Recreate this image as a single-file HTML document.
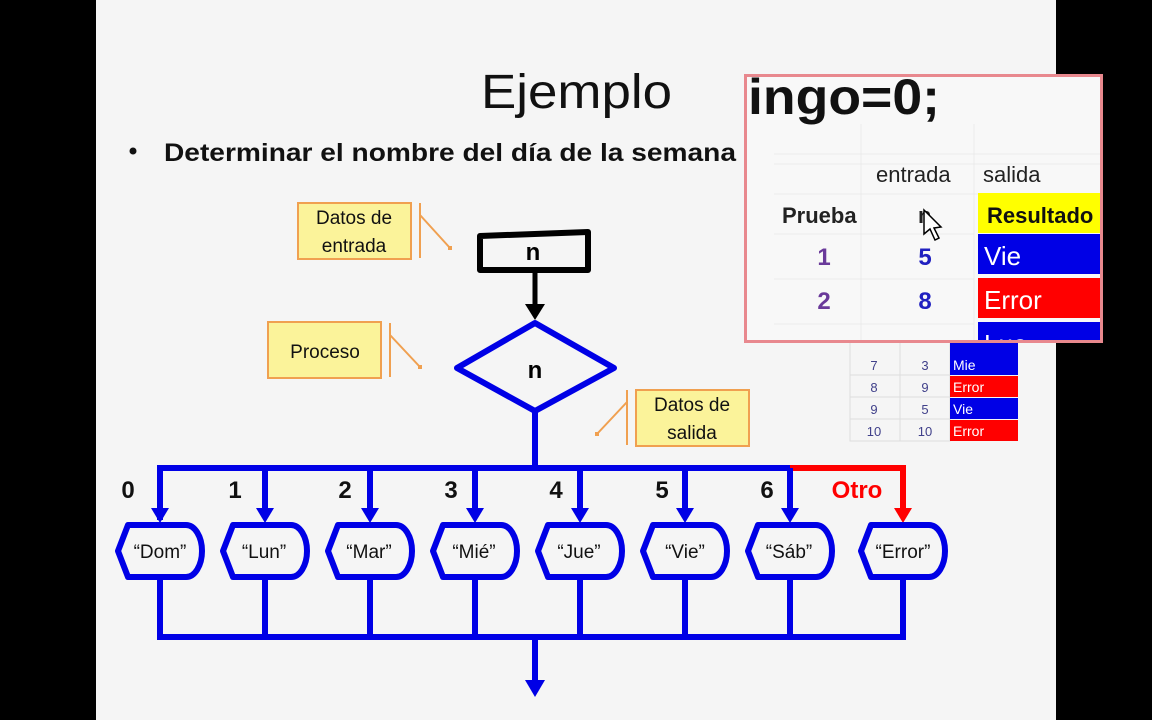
<!DOCTYPE html>
<html><head><meta charset="utf-8"><style>
html,body{margin:0;padding:0;width:1152px;height:720px;overflow:hidden;background:#000}
svg{display:block}
text{font-family:"Liberation Sans",sans-serif}
</style></head><body>
<svg width="1152" height="720" viewBox="0 0 1152 720" xmlns="http://www.w3.org/2000/svg">
<rect x="0" y="0" width="1152" height="720" fill="#000"/>
<rect x="96" y="0" width="960" height="720" fill="#f5f5f5"/>
<text x="481" y="108" font-size="48" fill="#111" textLength="191" lengthAdjust="spacingAndGlyphs">Ejemplo</text>
<circle cx="133" cy="151" r="3.5" fill="#111"/>
<text x="164" y="161" font-size="25" font-weight="bold" fill="#111" textLength="572" lengthAdjust="spacingAndGlyphs">Determinar el nombre del día de la semana</text>

<!-- callouts -->
<g fill="#fbf39a" stroke="#f0a050" stroke-width="2">
<rect x="298" y="203" width="113" height="56"/>
<rect x="268" y="322" width="113" height="56"/>
<rect x="636" y="390" width="113" height="56"/>
</g>
<g stroke="#f0a050" stroke-width="2" fill="none">
<path d="M420 203 V258 M420 215 L450 248"/>
<path d="M390 323 V377 M390 335 L420 367"/>
<path d="M627 390 V445 M627 402 L597 434"/>
</g>
<g fill="#f0a050"><rect x="448" y="246" width="4" height="4"/><rect x="418" y="365" width="4" height="4"/><rect x="595" y="432" width="4" height="4"/></g>
<g font-size="19" text-anchor="middle" fill="#111">
<text x="354" y="224">Datos de</text><text x="354" y="252">entrada</text>
<text x="325" y="358">Proceso</text>
<text x="692" y="411">Datos de</text><text x="692" y="439">salida</text>
</g>

<!-- input -->
<path d="M480 236 L588 232 V270 H480 Z" fill="none" stroke="#000" stroke-width="6" stroke-linejoin="round"/>
<text x="533" y="260" font-size="24" font-weight="bold" text-anchor="middle">n</text>
<line x1="535" y1="272" x2="535" y2="305" stroke="#000" stroke-width="5"/>
<path d="M525 304 H545 L535 320 Z" fill="#000"/>
<!-- diamond -->
<path d="M535 323 L614 368 L535 411 L457 368 Z" fill="none" stroke="#0000e6" stroke-width="6" stroke-linejoin="round"/>
<text x="535" y="378" font-size="24" font-weight="bold" text-anchor="middle">n</text>
<line x1="535" y1="411" x2="535" y2="468" stroke="#0000e6" stroke-width="6"/>

<!-- buses -->
<path d="M160 520 V468 H793" fill="none" stroke="#0000e6" stroke-width="6"/>
<path d="M790 468 H903 V510" fill="none" stroke="#ff0000" stroke-width="6"/>
<path d="M894 508 H912 L903 523 Z" fill="#ff0000"/>
<path d="M160 580 V637 H903 V580" fill="none" stroke="#0000e6" stroke-width="6"/>
<line x1="535" y1="637" x2="535" y2="682" stroke="#0000e6" stroke-width="6"/>
<path d="M525 680 H545 L535 697 Z" fill="#0000e6"/>

<g fill="none" stroke="#0000e6" stroke-width="6" stroke-linejoin="round">
<path d="M118 551 L128 525 H186 A16 26 0 0 1 202 551 A16 26 0 0 1 186 577 H128 Z"/>
<path d="M223 551 L233 525 H291 A16 26 0 0 1 307 551 A16 26 0 0 1 291 577 H233 Z"/>
<path d="M328 551 L338 525 H396 A16 26 0 0 1 412 551 A16 26 0 0 1 396 577 H338 Z"/>
<path d="M433 551 L443 525 H501 A16 26 0 0 1 517 551 A16 26 0 0 1 501 577 H443 Z"/>
<path d="M538 551 L548 525 H606 A16 26 0 0 1 622 551 A16 26 0 0 1 606 577 H548 Z"/>
<path d="M643 551 L653 525 H711 A16 26 0 0 1 727 551 A16 26 0 0 1 711 577 H653 Z"/>
<path d="M748 551 L758 525 H816 A16 26 0 0 1 832 551 A16 26 0 0 1 816 577 H758 Z"/>
<path d="M861 551 L871 525 H929 A16 26 0 0 1 945 551 A16 26 0 0 1 929 577 H871 Z"/>
</g>
<g stroke="#0000e6" stroke-width="6">
<line x1="265" y1="468" x2="265" y2="510"/><line x1="370" y1="468" x2="370" y2="510"/>
<line x1="475" y1="468" x2="475" y2="510"/><line x1="580" y1="468" x2="580" y2="510"/>
<line x1="685" y1="468" x2="685" y2="510"/><line x1="790" y1="468" x2="790" y2="510"/>
<line x1="265" y1="580" x2="265" y2="637"/><line x1="370" y1="580" x2="370" y2="637"/>
<line x1="475" y1="580" x2="475" y2="637"/><line x1="580" y1="580" x2="580" y2="637"/>
<line x1="685" y1="580" x2="685" y2="637"/><line x1="790" y1="580" x2="790" y2="637"/>
</g>
<g fill="#0000e6">
<path d="M151 508 H169 L160 523 Z"/><path d="M256 508 H274 L265 523 Z"/><path d="M361 508 H379 L370 523 Z"/>
<path d="M466 508 H484 L475 523 Z"/><path d="M571 508 H589 L580 523 Z"/><path d="M676 508 H694 L685 523 Z"/>
<path d="M781 508 H799 L790 523 Z"/>
</g>
<g font-size="24" font-weight="bold" fill="#111" text-anchor="middle">
<text x="128" y="498">0</text><text x="235" y="498">1</text><text x="345" y="498">2</text><text x="451" y="498">3</text>
<text x="556" y="498">4</text><text x="662" y="498">5</text><text x="767" y="498">6</text>
<text x="857" y="498" fill="#ff0000">Otro</text>
</g>
<g font-size="19" fill="#111" text-anchor="middle">
<text x="160" y="558">“Dom”</text><text x="264" y="558">“Lun”</text><text x="369" y="558">“Mar”</text>
<text x="474" y="558">“Mié”</text><text x="579" y="558">“Jue”</text><text x="685" y="558">“Vie”</text>
<text x="789" y="558">“Sáb”</text><text x="903" y="558">“Error”</text>
</g>

<!-- small table -->
<g stroke="#ddd" stroke-width="1" fill="none">
<rect x="850" y="342" width="100" height="99"/>
<line x1="900" y1="342" x2="900" y2="441"/>
<line x1="850" y1="375" x2="950" y2="375"/><line x1="850" y1="397" x2="950" y2="397"/><line x1="850" y1="419" x2="950" y2="419"/>
</g>
<rect x="950" y="342" width="68" height="33" fill="#0000e6"/>
<rect x="950" y="376" width="68" height="21" fill="#ff0000"/>
<rect x="950" y="398" width="68" height="21" fill="#0000e6"/>
<rect x="950" y="420" width="68" height="21" fill="#ff0000"/>
<g font-size="13" fill="#40408a" text-anchor="middle">
<text x="874" y="370">7</text><text x="925" y="370">3</text>
<text x="874" y="392">8</text><text x="925" y="392">9</text>
<text x="874" y="414">9</text><text x="925" y="414">5</text>
<text x="874" y="436">10</text><text x="925" y="436">10</text>
</g>
<g font-size="14" fill="#fff">
<text x="953" y="370">Mie</text><text x="953" y="392">Error</text><text x="953" y="414">Vie</text><text x="953" y="436">Error</text>
</g>

<!-- overlay -->
<svg x="744" y="74" width="359" height="269">
<rect x="0" y="0" width="359" height="269" fill="#f8f8f8"/>
<g stroke="#ebebeb" stroke-width="1">
<line x1="30" y1="80" x2="359" y2="80"/><line x1="30" y1="90" x2="359" y2="90"/>
<line x1="30" y1="120" x2="359" y2="120"/><line x1="30" y1="160" x2="230" y2="160"/>
<line x1="30" y1="205" x2="230" y2="205"/><line x1="30" y1="250" x2="230" y2="250"/>
<line x1="117" y1="50" x2="117" y2="269"/><line x1="230" y1="50" x2="230" y2="269"/>
</g>
<text x="4" y="40" font-size="50" font-weight="bold" fill="#111" textLength="192" lengthAdjust="spacingAndGlyphs">ingo=0;</text>
<text x="132" y="108" font-size="22" fill="#222">entrada</text>
<text x="239" y="108" font-size="22" fill="#222">salida</text>
<text x="38" y="149" font-size="22" font-weight="bold" fill="#222">Prueba</text>
<text x="174" y="149" font-size="22" font-weight="bold" fill="#222">n</text>
<rect x="234" y="119" width="125" height="40" fill="#ffff00"/>
<text x="243" y="149" font-size="22" font-weight="bold" fill="#111">Resultado</text>
<rect x="234" y="160" width="125" height="40" fill="#0000e6"/>
<text x="240" y="191" font-size="26" fill="#fff">Vie</text>
<rect x="234" y="204" width="125" height="40" fill="#ff0000"/>
<text x="240" y="235" font-size="26" fill="#fff">Error</text>
<rect x="234" y="248" width="125" height="21" fill="#0000e6"/>
<text x="240" y="279" font-size="26" fill="#fff">Lue</text>
<g font-size="24" font-weight="bold" text-anchor="middle">
<text x="80" y="191" fill="#6a3a9a">1</text><text x="181" y="191" fill="#2020c0">5</text>
<text x="80" y="235" fill="#6a3a9a">2</text><text x="181" y="235" fill="#2020c0">8</text>
</g>
<path d="M180 136 L180 160 L186 155 L191 166 L195 164 L190 154 L197 153 Z" fill="#fff" stroke="#000" stroke-width="1.5"/>
</svg>
<rect x="745.5" y="75.5" width="356" height="266" fill="none" stroke="#e8888e" stroke-width="3"/>
</svg>
</body></html>
